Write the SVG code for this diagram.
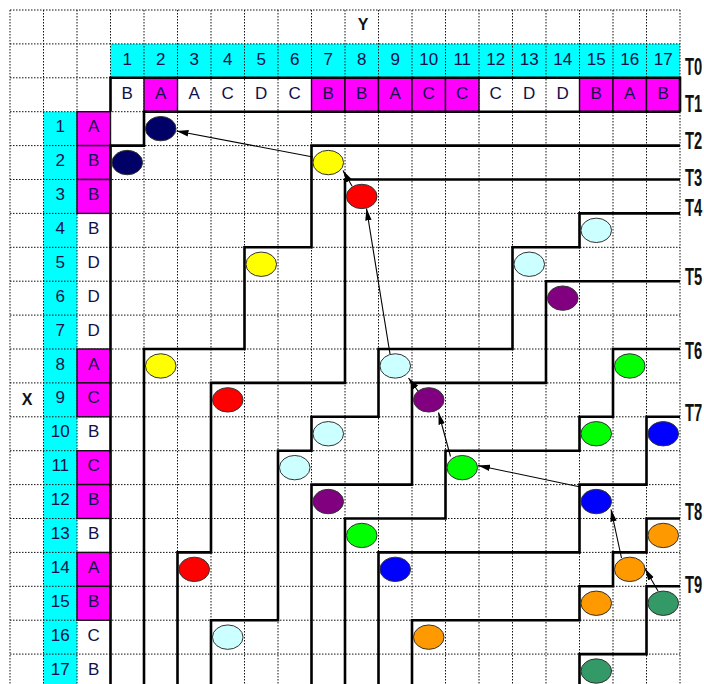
<svg xmlns="http://www.w3.org/2000/svg" width="704" height="684" viewBox="0 0 704 684">
<defs>
<style>
.grid{fill:none;stroke:#111;stroke-width:1;stroke-dasharray:1.5 1.5}
.cy{fill:#00FFFF}
.mg{fill:#FF00FF;stroke:#111;stroke-width:1.4}
.thick{fill:none;stroke:#000;stroke-width:2.6;stroke-linejoin:miter}
.t{font-family:"Liberation Sans",Arial,sans-serif;font-size:17px;fill:#10104a;text-anchor:middle}
.lab{font-family:"Liberation Sans",Arial,sans-serif;font-size:16px;font-weight:bold;fill:#111;text-anchor:middle}
.tl{font-family:"Liberation Sans",Arial,sans-serif;font-size:23px;font-weight:bold;fill:#111}
.n{stroke:#333;stroke-width:1}
.arr{fill:none;stroke:#000;stroke-width:1.1;marker-end:url(#ah)}
</style>
<marker id="ah" viewBox="0 0 12 8" refX="12" refY="4" markerWidth="12" markerHeight="8" markerUnits="userSpaceOnUse" orient="auto">
<path d="M0,0.8 L12,4 L0,7.2 z" fill="#000"/>
</marker>
</defs>
<rect width="704" height="684" fill="#fff"/>

<g id="fills">
<rect class="cy" x="110.5" y="43.9" width="569.5" height="33.9"/>
<rect class="cy" x="43.5" y="111.7" width="33.5" height="572.3"/>
</g>

<g id="grid">
<path class="grid" d="M10 10H680M10 43.9H680M10 77.8H680M10 111.7H680M10 145.6H680M10 179.5H680M10 213.4H680M10 247.3H680M10 281.2H680M10 315.1H680M10 349H680M10 382.9H680M10 416.8H680M10 450.7H680M10 484.6H680M10 518.5H680M10 552.4H680M10 586.3H680M10 620.2H680M10 654.1H680"/>
<path class="grid" d="M10 10V684M43.5 10V684M77 10V684M110.5 10V684M144 10V684M177.5 10V684M211 10V684M244.5 10V684M278 10V684M311.5 10V684M345 10V684M378.5 10V684M412 10V684M445.5 10V684M479 10V684M512.5 10V684M546 10V684M579.5 10V684M613 10V684M646.5 10V684M680 10V684"/>
</g>

<g id="matched-cells">
<rect class="mg" x="144" y="77.8" width="33.5" height="33.9"/>
<rect class="mg" x="311.5" y="77.8" width="33.5" height="33.9"/>
<rect class="mg" x="345" y="77.8" width="33.5" height="33.9"/>
<rect class="mg" x="378.5" y="77.8" width="33.5" height="33.9"/>
<rect class="mg" x="412" y="77.8" width="33.5" height="33.9"/>
<rect class="mg" x="445.5" y="77.8" width="33.5" height="33.9"/>
<rect class="mg" x="579.5" y="77.8" width="33.5" height="33.9"/>
<rect class="mg" x="613" y="77.8" width="33.5" height="33.9"/>
<rect class="mg" x="646.5" y="77.8" width="33.5" height="33.9"/>
<rect class="mg" x="77" y="111.7" width="33.5" height="33.9"/>
<rect class="mg" x="77" y="145.6" width="33.5" height="33.9"/>
<rect class="mg" x="77" y="179.5" width="33.5" height="33.9"/>
<rect class="mg" x="77" y="349" width="33.5" height="33.9"/>
<rect class="mg" x="77" y="382.9" width="33.5" height="33.9"/>
<rect class="mg" x="77" y="450.7" width="33.5" height="33.9"/>
<rect class="mg" x="77" y="484.6" width="33.5" height="33.9"/>
<rect class="mg" x="77" y="552.4" width="33.5" height="33.9"/>
<rect class="mg" x="77" y="586.3" width="33.5" height="33.9"/>
</g>

<g id="contours">
<path class="thick" d="M110.5 111.7V77.8H680V111.7"/>
<path class="thick" d="M680 111.7H144V145.6H110.5V684"/>
<path class="thick" d="M680 145.6H311.5V247.3H244.5V349H144V684"/>
<path class="thick" d="M680 179.5H345V382.9H211V552.4H177.5V684"/>
<path class="thick" d="M680 213.4H579.5V247.3H512.5V349H378.5V416.8H311.5V450.7H278V620.2H211V684"/>
<path class="thick" d="M680 281.2H546V382.9H412V484.6H311.5V684"/>
<path class="thick" d="M680 349H613V416.8H579.5V450.7H445.5V518.5H345V684"/>
<path class="thick" d="M680 416.8H646.5V484.6H579.5V552.4H378.5V684"/>
<path class="thick" d="M680 518.5H646.5V552.4H613V586.3H579.5V620.2H412V684"/>
<path class="thick" d="M680 586.3H646.5V654.1H579.5V684"/>
</g>

<g id="header-text">
<text class="lab" x="363" y="30">Y</text>
<text class="lab" x="27" y="405">X</text>
<g class="t">
<text x="127.25" y="65">1</text><text x="160.75" y="65">2</text><text x="194.25" y="65">3</text><text x="227.75" y="65">4</text><text x="261.25" y="65">5</text><text x="294.75" y="65">6</text><text x="328.25" y="65">7</text><text x="361.75" y="65">8</text><text x="395.25" y="65">9</text><text x="428.75" y="65">10</text><text x="462.25" y="65">11</text><text x="495.75" y="65">12</text><text x="529.25" y="65">13</text><text x="562.75" y="65">14</text><text x="596.25" y="65">15</text><text x="629.75" y="65">16</text><text x="663.25" y="65">17</text>
</g>
<g class="t">
<text x="127.25" y="99">B</text><text x="160.75" y="99">A</text><text x="194.25" y="99">A</text><text x="227.75" y="99">C</text><text x="261.25" y="99">D</text><text x="294.75" y="99">C</text><text x="328.25" y="99">B</text><text x="361.75" y="99">B</text><text x="395.25" y="99">A</text><text x="428.75" y="99">C</text><text x="462.25" y="99">C</text><text x="495.75" y="99">C</text><text x="529.25" y="99">D</text><text x="562.75" y="99">D</text><text x="596.25" y="99">B</text><text x="629.75" y="99">A</text><text x="663.25" y="99">B</text>
</g>
<g class="t">
<text x="60.25" y="132.2">1</text><text x="60.25" y="166.1">2</text><text x="60.25" y="200">3</text><text x="60.25" y="233.9">4</text><text x="60.25" y="267.8">5</text><text x="60.25" y="301.7">6</text><text x="60.25" y="335.6">7</text><text x="60.25" y="369.5">8</text><text x="60.25" y="403.4">9</text><text x="60.25" y="437.3">10</text><text x="60.25" y="471.2">11</text><text x="60.25" y="505.1">12</text><text x="60.25" y="539">13</text><text x="60.25" y="572.9">14</text><text x="60.25" y="606.8">15</text><text x="60.25" y="640.7">16</text><text x="60.25" y="674.6">17</text>
</g>
<g class="t">
<text x="93.75" y="132.2">A</text><text x="93.75" y="166.1">B</text><text x="93.75" y="200">B</text><text x="93.75" y="233.9">B</text><text x="93.75" y="267.8">D</text><text x="93.75" y="301.7">D</text><text x="93.75" y="335.6">D</text><text x="93.75" y="369.5">A</text><text x="93.75" y="403.4">C</text><text x="93.75" y="437.3">B</text><text x="93.75" y="471.2">C</text><text x="93.75" y="505.1">B</text><text x="93.75" y="539">B</text><text x="93.75" y="572.9">A</text><text x="93.75" y="606.8">B</text><text x="93.75" y="640.7">C</text><text x="93.75" y="674.6">B</text>
</g>
</g>

<g id="level-labels" class="tl">
<text transform="translate(685 75) scale(0.64 1)">T0</text>
<text transform="translate(685 112) scale(0.64 1)">T1</text>
<text transform="translate(685 149) scale(0.64 1)">T2</text>
<text transform="translate(685 186) scale(0.64 1)">T3</text>
<text transform="translate(685 216) scale(0.64 1)">T4</text>
<text transform="translate(685 285) scale(0.64 1)">T5</text>
<text transform="translate(685 359) scale(0.64 1)">T6</text>
<text transform="translate(685 421) scale(0.64 1)">T7</text>
<text transform="translate(685 520) scale(0.64 1)">T8</text>
<text transform="translate(685 593) scale(0.64 1)">T9</text>
</g>

<g id="nodes">
<g id="n1-2"><ellipse class="n" cx="160.75" cy="128.65" rx="15.3" ry="12.2" fill="#000066"/></g>
<g id="n2-1"><ellipse class="n" cx="127.25" cy="162.55" rx="15.3" ry="12.2" fill="#000066"/></g>
<g id="n2-7"><ellipse class="n" cx="328.25" cy="162.55" rx="15.3" ry="12.2" fill="#FFFF00"/></g>
<g id="n5-5"><ellipse class="n" cx="261.25" cy="264.25" rx="15.3" ry="12.2" fill="#FFFF00"/></g>
<g id="n8-2"><ellipse class="n" cx="160.75" cy="365.95" rx="15.3" ry="12.2" fill="#FFFF00"/></g>
<g id="n3-8"><ellipse class="n" cx="361.75" cy="196.45" rx="15.3" ry="12.2" fill="#FF0000"/></g>
<g id="n9-4"><ellipse class="n" cx="227.75" cy="399.85" rx="15.3" ry="12.2" fill="#FF0000"/></g>
<g id="n14-3"><ellipse class="n" cx="194.25" cy="569.35" rx="15.3" ry="12.2" fill="#FF0000"/></g>
<g id="n4-15"><ellipse class="n" cx="596.25" cy="230.35" rx="15.3" ry="12.2" fill="#CCFFFF"/></g>
<g id="n5-13"><ellipse class="n" cx="529.25" cy="264.25" rx="15.3" ry="12.2" fill="#CCFFFF"/></g>
<g id="n8-9"><ellipse class="n" cx="395.25" cy="365.95" rx="15.3" ry="12.2" fill="#CCFFFF"/></g>
<g id="n10-7"><ellipse class="n" cx="328.25" cy="433.75" rx="15.3" ry="12.2" fill="#CCFFFF"/></g>
<g id="n11-6"><ellipse class="n" cx="294.75" cy="467.65" rx="15.3" ry="12.2" fill="#CCFFFF"/></g>
<g id="n16-4"><ellipse class="n" cx="227.75" cy="637.15" rx="15.3" ry="12.2" fill="#CCFFFF"/></g>
<g id="n6-14"><ellipse class="n" cx="562.75" cy="298.15" rx="15.3" ry="12.2" fill="#800080"/></g>
<g id="n9-10"><ellipse class="n" cx="428.75" cy="399.85" rx="15.3" ry="12.2" fill="#800080"/></g>
<g id="n12-7"><ellipse class="n" cx="328.25" cy="501.55" rx="15.3" ry="12.2" fill="#800080"/></g>
<g id="n8-16"><ellipse class="n" cx="629.75" cy="365.95" rx="15.3" ry="12.2" fill="#00FF00"/></g>
<g id="n10-15"><ellipse class="n" cx="596.25" cy="433.75" rx="15.3" ry="12.2" fill="#00FF00"/></g>
<g id="n11-11"><ellipse class="n" cx="462.25" cy="467.65" rx="15.3" ry="12.2" fill="#00FF00"/></g>
<g id="n13-8"><ellipse class="n" cx="361.75" cy="535.45" rx="15.3" ry="12.2" fill="#00FF00"/></g>
<g id="n10-17"><ellipse class="n" cx="663.25" cy="433.75" rx="15.3" ry="12.2" fill="#0000FF"/></g>
<g id="n12-15"><ellipse class="n" cx="596.25" cy="501.55" rx="15.3" ry="12.2" fill="#0000FF"/></g>
<g id="n14-9"><ellipse class="n" cx="395.25" cy="569.35" rx="15.3" ry="12.2" fill="#0000FF"/></g>
<g id="n13-17"><ellipse class="n" cx="663.25" cy="535.45" rx="15.3" ry="12.2" fill="#FF9900"/></g>
<g id="n14-16"><ellipse class="n" cx="629.75" cy="569.35" rx="15.3" ry="12.2" fill="#FF9900"/></g>
<g id="n15-15"><ellipse class="n" cx="596.25" cy="603.25" rx="15.3" ry="12.2" fill="#FF9900"/></g>
<g id="n16-10"><ellipse class="n" cx="428.75" cy="637.15" rx="15.3" ry="12.2" fill="#FF9900"/></g>
<g id="n15-17"><ellipse class="n" cx="663.25" cy="603.25" rx="15.3" ry="12.2" fill="#339966"/></g>
<g id="n17-15"><ellipse class="n" cx="596.25" cy="671.05" rx="15.3" ry="12.2" fill="#339966"/></g>
</g>

<g id="connectors">
<path class="arr" d="M313 157L176.5 131"/>
<path class="arr" d="M352 186L343 170.5"/>
<path class="arr" d="M390 354L366.5 208.5"/>
<path class="arr" d="M418 391L408.5 378"/>
<path class="arr" d="M450.5 456.5L438.5 412.5"/>
<path class="arr" d="M580.5 487L478 465.5"/>
<path class="arr" d="M621.5 558L611 509.5"/>
<path class="arr" d="M658 591L645 568.5"/>
</g>
</svg>
